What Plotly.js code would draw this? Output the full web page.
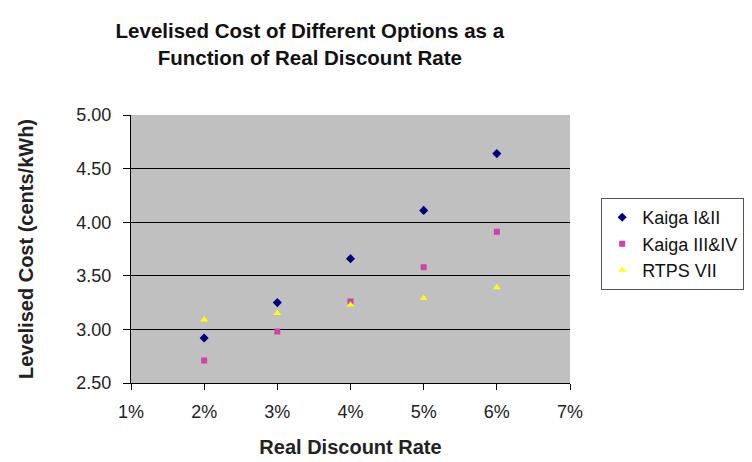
<!DOCTYPE html>
<html>
<head>
<meta charset="utf-8">
<script src="https://cdn.plot.ly/plotly-3.0.1.min.js"></script>
<style>body{margin:0;padding:0;background:#fff;}#chart{width:752px;height:462px;}</style>
</head>
<body>
<div id="chart"></div>
<script>
const discountRates = [0.02, 0.03, 0.04, 0.05, 0.06];
const kaigaI_II = [2.92, 3.25, 3.66, 4.11, 4.64];
const kaigaIII_IV = [2.71, 2.98, 3.26, 3.58, 3.91];
const rtpsVII = [3.09, 3.15, 3.23, 3.29, 3.39];
const seriesNames = ['Kaiga I&II', 'Kaiga III&IV', 'RTPS VII'];
const xTickVals = [0.01, 0.02, 0.03, 0.04, 0.05, 0.06, 0.07];
const yTickVals = [2.5, 3.0, 3.5, 4.0, 4.5, 5.0];

const font = 'Liberation Sans, Arial, sans-serif';
const traces = [
  {x: discountRates, y: kaigaI_II, name: seriesNames[0], type: 'scatter', mode: 'markers',
   marker: {symbol: 'diamond', size: 7, color: '#000080'}},
  {x: discountRates, y: kaigaIII_IV, name: seriesNames[1], type: 'scatter', mode: 'markers',
   marker: {symbol: 'square', size: 6, color: '#d040a8'}},
  {x: discountRates, y: rtpsVII, name: seriesNames[2], type: 'scatter', mode: 'markers',
   marker: {symbol: 'triangle-up', size: 7, color: '#ffff00'}}
];
const layout = {
  width: 752, height: 462,
  margin: {l: 131, r: 182, t: 115, b: 79, autoexpand: false},
  paper_bgcolor: '#ffffff',
  plot_bgcolor: '#c0c0c0',
  font: {family: font, size: 18, color: '#222'},
  title: {text: '<b>Levelised Cost of Different Options as a<br>Function of Real Discount Rate</b>',
          xref: 'container', x: 0.412, xanchor: 'center', yref: 'container', y: 0.917, yanchor: 'top',
          font: {family: font, size: 20.5, color: '#111'}},
  xaxis: {range: [0.01, 0.07], tickvals: xTickVals, tickformat: '.0%', showgrid: false, zeroline: false,
          showline: true, linecolor: '#000', linewidth: 1, ticks: 'outside', ticklen: 6, tickcolor: '#000',
          ticklabelstandoff: 6, automargin: false,
          tickfont: {family: font, size: 18, color: '#222'},
          title: {text: '<b>Real Discount Rate</b>', font: {family: font, size: 20, color: '#222'}, standoff: 19}},
  yaxis: {range: [2.5, 5.0], tickvals: yTickVals, tickformat: '.2f', showgrid: true, gridcolor: '#000', gridwidth: 1,
          zeroline: false, showline: true, linecolor: '#000', linewidth: 1, ticks: 'outside', ticklen: 7, tickcolor: '#000',
          ticklabelstandoff: 8, automargin: false,
          tickfont: {family: font, size: 18, color: '#222'},
          title: {text: '<b>Levelised Cost (cents/kWh)</b>', font: {family: font, size: 20, color: '#222'}, standoff: 37}},
  legend: {x: 1.071, xanchor: 'left', y: 0.69, yanchor: 'top', bordercolor: '#555', borderwidth: 1,
           bgcolor: '#fff', font: {family: font, size: 18, color: '#111'}, tracegroupgap: 0, itemwidth: 30},
  showlegend: true
};
Plotly.newPlot('chart', traces, layout, {displayModeBar: false, staticPlot: true});
</script>
</body>
</html>
